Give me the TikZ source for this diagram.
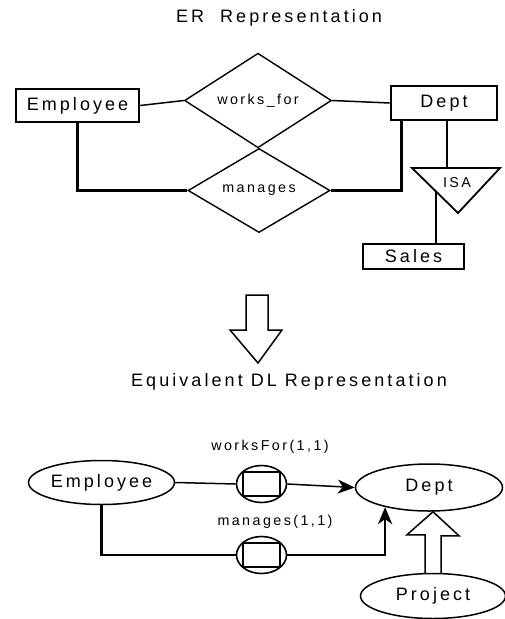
\documentclass[tikz,border=0pt]{standalone}
\usepackage{fontspec}
\newfontfamily\erfont[LetterSpace=17]{Liberation Sans}
\usetikzlibrary{shapes.geometric,arrows.meta}

\begin{document}
\begin{tikzpicture}[x=1pt,y=-1pt,
  every node/.style={font=\erfont\fontsize{18}{20}\selectfont, inner sep=0pt},
  small/.style={font=\erfont\fontsize{14.3}{16}\selectfont},
  entity/.style={draw, line width=2.6pt},
  rel/.style={draw, diamond, line width=1.4pt, small},
  concept/.style={draw, ellipse, line width=1.5pt},
  rolebox/.style={draw, line width=2.6pt, minimum width=37pt, minimum height=24pt},
  rolering/.style={draw, ellipse, line width=1.6pt, minimum width=50pt, minimum height=37pt},
  thin link/.style={line width=1.5pt},
  thick link/.style={line width=2.8pt},
  tip/.style={-{Stealth[length=17pt,width=14pt,inset=5pt]}}
]
\useasboundingbox (0,0) rectangle (505,619);

\node (ertitle) at (279,18) {ER\hspace{8pt} Representation};

\node[entity, minimum width=123pt, minimum height=33pt] (emp) at (77.5,105.5) {Employee};
\node[entity, minimum width=106pt, minimum height=34pt] (dept) at (444,103) {Dept};
\node[rel, minimum width=147pt, minimum height=55pt] (wf) at (258,100.5) {works\_for};
\node[rel, minimum width=142pt, minimum height=55pt] (mg) at (259,190.5) {manages};
\node[entity, minimum width=101pt, minimum height=25pt] (sales) at (413.5,256.5) {Sales};

\draw[line width=1.8pt] (412,168) -- (500,168) -- (458,213) -- cycle;
\node[small] (isa) at (457,183) {ISA};
\coordinate (isatop) at (447,168);
\coordinate (isaleft) at (436,191.5);

\draw[thin link] (emp.east) -- (wf.west);
\draw[thin link] (wf.east) -- (dept.west);
\draw[thick link] (emp.south) |- (mg.west);
\draw[thick link] (mg.east) -| ([xshift=12pt]dept.south west);
\draw[thin link] ([xshift=3pt]dept.south) -- (isatop);
\draw[thick link] ([xshift=22.5pt]sales.north) -- (isaleft);

\draw[thin link] (246,295) -- (268,295) -- (268,330) -- (282,330) -- (258,363)
  -- (230,330) -- (246,330) -- cycle;

\node (dltitle) at (289,382) {Equivalent DL Representation};

\node[concept, minimum width=146pt, minimum height=44pt] (emp2) at (101.5,482.5) {Employee};
\node[concept, minimum width=147pt, minimum height=47pt] (dept2) at (429,487.5) {Dept};
\node[concept, minimum width=145pt, minimum height=45pt] (proj) at (433,596) {Project};

\node[rolebox] (wfbox) at (261.5,484) {};
\node[rolering] (wfring) at (wfbox) {};
\node[small] (wflabel) at (270,447) {worksFor(1,1)};
\node[rolebox] (mgbox) at (261.5,555) {};
\node[rolering] (mgring) at (mgbox) {};
\node[small] (mglabel) at (275,522) {manages(1,1)};

\draw[thin link] (emp2.east) -- (wfring.west);
\draw[thin link, tip] (wfring.east) -- (dept2.west);
\draw[thick link] (emp2.south) |- (mgring.west);
\draw[thick link, tip] (mgring.east) -| (dept2.204);

\draw[thin link] ([xshift=-8pt]proj.north) -- ++(0,-38) -- ++(-18,0)
  -- (proj.north |- dept2.south) -- ++(26,24) -- ++(-18,0) -- ([xshift=8pt]proj.north);
\end{tikzpicture}
\end{document}
